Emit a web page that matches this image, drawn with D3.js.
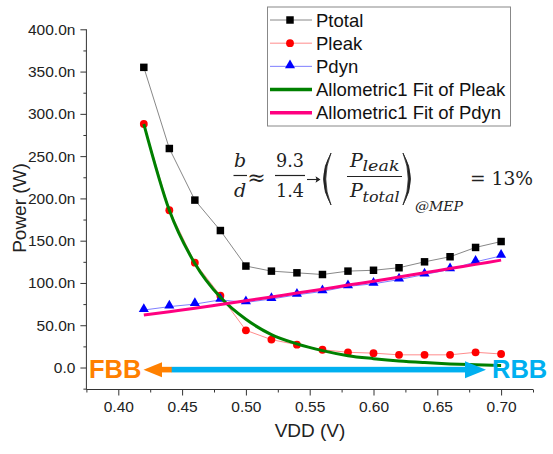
<!DOCTYPE html>
<html>
<head>
<meta charset="utf-8">
<script src="https://cdn.jsdelivr.net/npm/d3@7"></script>
<style>
  body { margin: 0; background: #fff; }
  svg { font-family: "Liberation Sans", Arial, sans-serif; }
  .axis line { stroke: #333; }
  .axis text { fill: #222; }
</style>
</head>
<body>
<div id="chart"></div>
<script>
// data (power in nW)
var vdd    = [0.42, 0.44, 0.46, 0.48, 0.50, 0.52, 0.54, 0.56, 0.58, 0.60, 0.62, 0.64, 0.66, 0.68, 0.70];
var ptotal = [355, 259, 198, 162, 120, 114, 112, 110, 114, 115, 118, 125, 131, 142, 149];
var pleak  = [288, 186, 124, 85, 44, 33, 27, 21, 18, 17, 15, 15, 15, 18, 16];
var pdyn   = [68, 72, 75, 80, 77, 81, 86, 90, 96, 99, 104, 110, 116, 125, 132];
var fitLeak = [288, 186, 123, 83, 57, 39, 28, 20, 14, 10.5, 7.7, 5.8, 4.3, 3.3, 2.5];
var fitDyn  = [62, 66, 70, 74.5, 79, 83.5, 88, 92.5, 97.5, 102, 107, 112, 117, 122, 127];

var xMajor = [0.40, 0.45, 0.50, 0.55, 0.60, 0.65, 0.70];
var xMinor = [0.375, 0.425, 0.475, 0.525, 0.575, 0.625, 0.675, 0.725];
var yMajor = [0, 50, 100, 150, 200, 250, 300, 350, 400];
var yMinor = [-25, 25, 75, 125, 175, 225, 275, 325, 375];

var legendNames = ["Ptotal", "Pleak", "Pdyn", "Allometric1 Fit of Pleak", "Allometric1 Fit of Pdyn"];

var W = 553, H = 454;
var svg = d3.select("#chart").append("svg")
  .attr("width", W).attr("height", H);

var x = d3.scaleLinear().domain([0.375, 0.725]).range([86.4, 533]);
var y = d3.scaleLinear().domain([-26, 400]).range([389.5, 29.3]);

// axes (ticks only, the lines are drawn below)
var xAxis = svg.append("g").attr("class", "axis")
  .attr("transform", "translate(0," + y(-26) + ")")
  .call(d3.axisBottom(x).tickValues(xMajor).tickSize(6).tickPadding(5)
    .tickFormat(d3.format(".2f")));
xAxis.selectAll("text").attr("font-size", "15.5px");
svg.append("g").attr("class", "axis")
  .attr("transform", "translate(0," + y(-26) + ")")
  .call(d3.axisBottom(x).tickValues(xMinor).tickSize(3).tickFormat(""));

var yAxis = svg.append("g").attr("class", "axis")
  .attr("transform", "translate(" + x(0.375) + ",0)")
  .call(d3.axisLeft(y).tickValues(yMajor).tickSize(6).tickPadding(5)
    .tickFormat(function(d){ return d === 0 ? "0.0" : d.toFixed(1) + "n"; }));
yAxis.selectAll("text").attr("font-size", "15.5px");
svg.append("g").attr("class", "axis")
  .attr("transform", "translate(" + x(0.375) + ",0)")
  .call(d3.axisLeft(y).tickValues(yMinor).tickSize(3).tickFormat(""));
svg.selectAll(".axis .domain").remove();
svg.append("line").attr("x1", x(0.375)).attr("x2", x(0.725))
  .attr("y1", y(-26)).attr("y2", y(-26)).attr("stroke", "#333");
svg.append("line").attr("x1", x(0.375)).attr("x2", x(0.375))
  .attr("y1", y(400)).attr("y2", y(-26)).attr("stroke", "#333");

// axis titles
svg.append("text").attr("x", 310).attr("y", 437).attr("text-anchor", "middle")
  .attr("font-size", "19px").attr("fill", "#222").text("VDD (V)");
svg.append("text").attr("transform", "translate(26,208) rotate(-90)")
  .attr("text-anchor", "middle").attr("font-size", "19px").attr("fill", "#222")
  .text("Power (W)");

function pts(vals) { return vdd.map(function(v, i){ return [v, vals[i]]; }); }
var line = d3.line().x(function(d){ return x(d[0]); }).y(function(d){ return y(d[1]); });
var smooth = d3.line().curve(d3.curveMonotoneX)
  .x(function(d){ return x(d[0]); }).y(function(d){ return y(d[1]); });

// data series
svg.append("path").attr("d", line(pts(ptotal))).attr("fill", "none").attr("stroke", "#888").attr("stroke-width", 1);
svg.append("path").attr("d", line(pts(pleak))).attr("fill", "none").attr("stroke", "#ff8c8c").attr("stroke-width", 1);
svg.append("path").attr("d", line(pts(pdyn))).attr("fill", "none").attr("stroke", "#7f7fff").attr("stroke-width", 1);

var sq = d3.symbol().type(d3.symbolSquare).size(56);
var ci = d3.symbol().type(d3.symbolCircle).size(48);
var tr = d3.symbol().type(d3.symbolTriangle).size(44);

svg.selectAll(".ptot").data(pts(ptotal)).enter().append("path")
  .attr("d", sq).attr("fill", "#000")
  .attr("transform", function(d){ return "translate(" + x(d[0]) + "," + y(d[1]) + ")"; });
svg.selectAll(".pleak").data(pts(pleak)).enter().append("path")
  .attr("d", ci).attr("fill", "#ff0000")
  .attr("transform", function(d){ return "translate(" + x(d[0]) + "," + y(d[1]) + ")"; });
svg.selectAll(".pdyn").data(pts(pdyn)).enter().append("path")
  .attr("d", tr).attr("fill", "#0000ff")
  .attr("transform", function(d){ return "translate(" + x(d[0]) + "," + (y(d[1]) - 1) + ")"; });

// fits
svg.append("path").attr("d", smooth(pts(fitLeak))).attr("fill", "none").attr("stroke", "#008000").attr("stroke-width", 3);
svg.append("path").attr("d", smooth(pts(fitDyn))).attr("fill", "none").attr("stroke", "#ff0080").attr("stroke-width", 3);

// FBB / RBB arrows
var ay = y(-2.5);
svg.append("rect").attr("x", 160).attr("y", ay - 2.8).attr("width", 12).attr("height", 5.6).attr("fill", "#ff8000");
svg.append("path").attr("d", "M143.5," + ay + " L162," + (ay - 7.5) + " L162," + (ay + 7.5) + " Z").attr("fill", "#ff8000");
svg.append("rect").attr("x", 171.7).attr("y", ay - 2.8).attr("width", 294).attr("height", 5.6).attr("fill", "#00b0f0");
svg.append("path").attr("d", "M486," + ay + " L465," + (ay - 8.5) + " L465," + (ay + 8.5) + " Z").attr("fill", "#00b0f0");
svg.append("text").attr("x", 89).attr("y", 377.5).attr("font-size", "25.5px").attr("font-weight", "bold")
  .attr("fill", "#ff8000").text("FBB");
svg.append("text").attr("x", 492).attr("y", 377.5).attr("font-size", "25.5px").attr("font-weight", "bold")
  .attr("fill", "#00b0f0").text("RBB");

// legend
var leg = svg.append("g");
leg.append("rect").attr("x", 267.5).attr("y", 7).attr("width", 243).attr("height", 119)
  .attr("fill", "#fff").attr("stroke", "#888");
var legY = d3.scalePoint().domain(legendNames).range([20, 112.7]);
var legStroke = ["#888", "#ff8c8c", "#7f7fff", "#008000", "#ff0080"];
var legWidth = [1, 1, 1, 3.5, 3.5];
var legSym = [sq, ci, tr, null, null];
var legFill = ["#000", "#ff0000", "#0000ff"];
legendNames.forEach(function(n, i){
  var cy = legY(n);
  leg.append("line").attr("x1", 270).attr("x2", 312).attr("y1", cy).attr("y2", cy)
    .attr("stroke", legStroke[i]).attr("stroke-width", legWidth[i]);
  if (legSym[i]) leg.append("path").attr("d", legSym[i]).attr("fill", legFill[i])
    .attr("transform", "translate(290," + (cy - (i === 2 ? 1 : 0)) + ")");
  leg.append("text").attr("x", 316).attr("y", cy + 6.5).attr("font-size", "18.5px")
    .attr("fill", "#111").text(n);
});

// formula
var f = svg.append("g").attr("font-family", "'DejaVu Serif', 'Liberation Serif', serif")
  .attr("fill", "#222");
function ft(txt, px, py, size, italic, anchor, len) {
  var t = f.append("text").attr("x", px).attr("y", py).attr("font-size", size + "px")
    .attr("font-style", italic ? "italic" : "normal")
    .attr("text-anchor", anchor || "middle").text(txt);
  if (len) t.attr("textLength", len).attr("lengthAdjust", "spacingAndGlyphs");
  return t;
}
function bar(x1, x2, yy) {
  f.append("line").attr("x1", x1).attr("x2", x2).attr("y1", yy).attr("y2", yy)
    .attr("stroke", "#222").attr("stroke-width", 1.2);
}
ft("b", 240, 167, 19, true);
bar(233.5, 247, 175.5);
ft("d", 240, 197, 19, true);
ft("\u2248", 256.5, 185, 22, false);
ft("9.3", 290, 167, 18, false, "middle", 28);
bar(275, 305, 175.5);
ft("1.4", 290, 197, 18, false, "middle", 28);
// arrow drawn as a small path
f.append("line").attr("x1", 307).attr("x2", 319).attr("y1", 179.5).attr("y2", 179.5)
  .attr("stroke", "#222").attr("stroke-width", 1.1);
f.append("path").attr("d", "M320.5,179.5 L315.5,176.3 L316.5,179.5 L315.5,182.7 Z").attr("fill", "#222");
f.append("path").attr("d", "M331,153 Q316,179 331,205 Q320.5,179 331,153 Z")
  .attr("fill", "#222").attr("stroke", "#222").attr("stroke-width", 0.8);
f.append("path").attr("d", "M403,153 Q418,179 403,205 Q413.5,179 403,153 Z")
  .attr("fill", "#222").attr("stroke", "#222").attr("stroke-width", 0.8);
ft("P", 350, 167, 19, true, "start");
ft("leak", 362.5, 171, 14, true, "start", 37);
bar(347, 402, 176.5);
ft("P", 350, 197, 19, true, "start");
ft("total", 362.5, 201.5, 14, true, "start", 37);
ft("@MEP", 415, 211, 13, true, "start", 48);
ft("= 13%", 470, 185, 18, false, "start", 63);
</script>
</body>
</html>
